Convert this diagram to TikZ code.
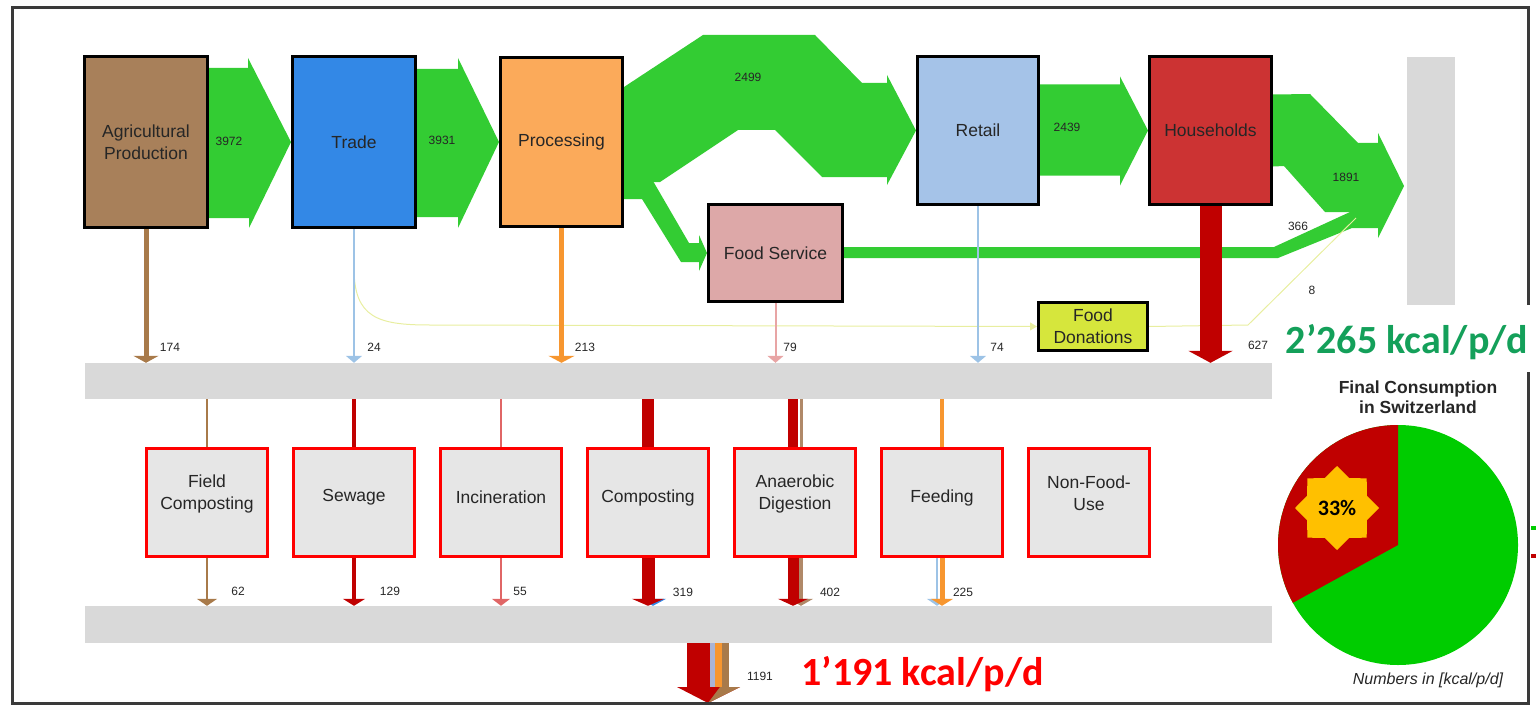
\documentclass[tikz,border=0pt]{standalone}
\usepackage{fontspec}
\setmainfont{Liberation Sans}
\newfontfamily\calibri{Carlito}
\usetikzlibrary{arrows.meta,positioning,calc,backgrounds,shapes.geometric}
\definecolor{Soil}{HTML}{A8805A}
\definecolor{Azure}{HTML}{3388E6}
\definecolor{Peach}{HTML}{FBAA5A}
\definecolor{Sky}{HTML}{A5C3E8}
\definecolor{Brick}{HTML}{CC3333}
\definecolor{Rose}{HTML}{DDA8A8}
\definecolor{Lime}{HTML}{D6E63C}
\definecolor{Leaf}{HTML}{33CC33}
\definecolor{Wine}{HTML}{C00000}
\definecolor{Umber}{HTML}{A87A4A}
\definecolor{Amber}{HTML}{F7962F}
\definecolor{Ice}{HTML}{9DC3E6}
\definecolor{Blush}{HTML}{E8A5A5}
\definecolor{Coral}{HTML}{E06666}
\definecolor{Taupe}{HTML}{B08968}
\definecolor{Lav}{HTML}{A9B4D6}
\definecolor{Haze}{HTML}{D9D9D9}
\definecolor{Ash}{HTML}{E6E6E6}
\definecolor{Signal}{HTML}{FF0000}
\definecolor{Mint}{HTML}{14A05A}
\definecolor{Turf}{HTML}{00CC00}
\definecolor{Gold}{HTML}{FFC000}
\definecolor{Ink}{HTML}{262626}
\definecolor{Frame}{HTML}{3A3A3A}
\definecolor{Donat}{HTML}{E8EEA0}
\newcommand\boxfont{\fontsize{17.5}{22}\selectfont}
\newcommand\numfont{\fontsize{12}{14}\selectfont}

\begin{document}
\begin{tikzpicture}[x=1pt,y=-1pt,node distance=23pt,
        tb/.style={draw=black,line width=3pt,inner sep=0pt,align=center,font=\boxfont,text=Ink},
        wb/.style={draw=Signal,fill=Ash,line width=3pt,minimum width=121pt,minimum height=108pt,inner sep=0pt},
        wl/.style={font=\boxfont,text=Ink,align=center,yshift=9pt},
        bar/.style={fill=Haze,inner sep=0pt},
        flow/.style={fill=Leaf},
        don/.style={draw=Donat,line width=1pt},
        dn/.style={-{Triangle[width=#1,length=7pt]}},
        num/.style={font=\numfont,text=Ink,inner sep=0pt},
        big/.style={font=\calibri\bfseries\fontsize{40}{40}\selectfont,inner sep=0pt,anchor=base},
        frame/.style={draw=Frame,line width=3pt}]
  \useasboundingbox (0,0) rectangle (1536,706);

  % chain stages
  \node[tb,fill=Soil,minimum width=123pt,minimum height=171pt] (ag) at (146,142) {Agricultural\\Production};
  \node[tb,fill=Azure,minimum width=123pt,minimum height=171pt,right=82pt of ag] (tr) {Trade};
  \node[tb,fill=Peach,minimum width=122pt,minimum height=169pt,right=82pt of tr] (pr) {Processing};
  \node[tb,fill=Sky,minimum width=121pt,minimum height=147pt] (rt) at (978,130.5) {Retail};
  \node[tb,fill=Brick,minimum width=122pt,minimum height=147pt,right=108pt of rt] (hh) {Households};
  \node[tb,fill=Rose,minimum width=134pt,minimum height=97pt] (fs) at (775.5,253) {Food Service};
  \node[tb,fill=Lime,minimum width=109pt,minimum height=48pt] (fd) at (1093,326.5) {Food\\Donations};

  % collecting bars
  \node[bar,minimum width=1187pt,minimum height=36pt] (bar1) at (678.5,381) {};
  \node[bar,minimum width=1187pt,minimum height=37pt] (bar2) at (678.5,624.5) {};
  \node[bar,minimum width=48pt,minimum height=248pt] (cons) at (1431,181) {};

  % waste treatment
  \node[wb,label={[wl]center:{Field\\Composting}}] (fc) at (207,502.5) {};
  \node[wb,label={[wl,yshift=-4pt]center:Sewage},right=of fc] (sw) {};
  \node[wb,label={[wl,yshift=-4pt]center:Incineration},right=of sw] (in) {};
  \node[wb,label={[wl,yshift=-4pt]center:Composting},right=of in] (cp) {};
  \node[wb,label={[wl]center:{Anaerobic\\Digestion}},right=of cp] (ad) {};
  \node[wb,label={[wl,yshift=-4pt]center:Feeding},right=of ad] (fe) {};
  \node[wb,label={[wl]center:{Non-Food-\\Use}},right=of fe] (nf) {};
  \coordinate (out) at (708,703);

  \begin{scope}[on background layer]
    % food flows
    \fill[flow] ($(ag.east)+(0,-74)$) -- ++(39,0) -- ++(0,-10) -- (tr.west) -- ++(-42,86) -- ++(0,-10) -- ($(ag.east)+(0,76)$) -- cycle;
    \fill[flow] ($(tr.east)+(0,-73)$) -- ++(41,0) -- ++(0,-11) -- (pr.west) -- ++(-41,86) -- ++(0,-11) -- ($(tr.east)+(0,75)$) -- cycle;
    \fill[flow] ($(pr.east)+(0,-55)$) -- (703,35) -- (815,35) -- (862,83) -- (887,83) -- (887,75) -- (rt.west) -- (887,185) -- (887,177) -- (822,177) -- (775,130) -- (738,130) -- (660,182) -- ($(pr.east)+(0,40)$) -- cycle;
    \fill[flow] ($(pr.east)+(0,39)$) -- (653,181) -- (689,243) -- (699,243) -- (699,235) -- (fs.west) -- (699,271) -- (699,262) -- (681,262) -- (642,199) -- ($(pr.east)+(0,57)$) -- cycle;
    \fill[flow] ($(rt.east)+(0,-46)$) -- ++(80,0) -- ++(0,-8) -- (hh.west) -- ++(-28,55) -- ++(0,-10) -- ($(rt.east)+(0,45)$) -- cycle;
    \fill[flow] ($(fs.east)+(0,-6)$) -- (1274,247) -- (1350,212) -- (1378,212) -- (1378,228) -- (1352,228) -- (1278,258) -- ($(fs.east)+(0,5)$) -- cycle;
    \fill[flow] ($(hh.east)+(0,-36)$) -- (1310,94) -- (1358,143) -- (1378,143) -- (1378,133) -- (1404,186) -- (1378,238) -- (1378,212) -- (1325,212) -- (1284,166) -- ($(hh.east)+(0,36)$) -- cycle;
    \draw[don,dn=8pt] ($(tr.south)+(0,39)$) .. controls (354,318) and (378,325) .. (430,325) -- (fd.west);
    \draw[don] (fd.east) -- (1248,325) -- (1356,218);
    % losses
    \draw[Umber,line width=5pt,dn=25pt] (ag) -- (ag |- bar1.north);
    \draw[Ice,line width=2pt,dn=16pt] (tr) -- (tr |- bar1.north);
    \draw[Amber,line width=5pt,dn=26pt] (pr) -- (pr |- bar1.north);
    \draw[Blush,line width=2pt,dn=16pt] (fs) -- (fs |- bar1.north);
    \draw[Ice,line width=2pt,dn=16pt] (rt) -- (rt |- bar1.north);
    \draw[Wine,line width=22pt,-{Triangle[width=44pt,length=12pt]}] (hh) -- (hh |- bar1.north);
    % to treatment
    \draw[Umber,line width=2pt] (bar1.south -| fc) -- (fc);
    \draw[Wine,line width=3.5pt] (bar1.south -| sw) -- (sw);
    \draw[Coral,line width=1.5pt] (bar1.south -| in) -- (in);
    \draw[Wine,line width=12pt] (bar1.south -| cp) -- (cp);
    \draw[Taupe,line width=3pt] ($(bar1.south -| ad)+(6.5,0)$) -- ($(ad.north)+(6.5,0)$);
    \draw[Wine,line width=10pt] ($(bar1.south -| ad)+(-2,0)$) -- ($(ad.north)+(-2,0)$);
    \draw[Amber,line width=4pt] (bar1.south -| fe) -- (fe);
    % out of treatment
    \draw[Umber,line width=2pt,dn=20pt] (fc) -- (fc |- bar2.north);
    \draw[Wine,line width=3.5pt,dn=22pt] (sw) -- (sw |- bar2.north);
    \draw[Coral,line width=1.5pt,dn=18pt] (in) -- (in |- bar2.north);
    \draw[Azure,line width=1pt,dn=26pt] ($(cp.south)+(5,0)$) -- ($(cp |- bar2.north)+(5,0)$);
    \draw[Wine,line width=13pt,dn=32pt] (cp) -- (cp |- bar2.north);
    \draw[Taupe,line width=4pt,dn=24pt] ($(ad.south)+(6,0)$) -- ($(ad |- bar2.north)+(6,0)$);
    \draw[Wine,line width=11pt,dn=30pt] ($(ad.south)+(-2,0)$) -- ($(ad |- bar2.north)+(-2,0)$);
    \draw[Ice,line width=2pt,dn=20pt] ($(fe.south)+(-5,0)$) -- ($(fe |- bar2.north)+(-5,0)$);
    \draw[Amber,line width=5pt,dn=22pt] (fe) -- (fe |- bar2.north);
    % residue
    \draw[Wine,line width=23pt] ($(bar2.south -| out)+(-9.5,0)$) -- ($(out)+(-9.5,-16)$);
    \draw[Lav,line width=5pt] ($(bar2.south -| out)+(4.5,0)$) -- ($(out)+(4.5,-16)$);
    \draw[Amber,line width=7pt] ($(bar2.south -| out)+(10.5,0)$) -- ($(out)+(10.5,-16)$);
    \draw[Umber,line width=7pt] ($(bar2.south -| out)+(17.5,0)$) -- ($(out)+(17.5,-16)$);
    \fill[Wine] ($(out)+(-31,-16)$) -- ($(out)+(32,-16)$) -- (out) -- cycle;
    \fill[Umber] ($(out)+(12,-16)$) -- ($(out)+(32,-16)$) -- (out) -- cycle;
  \end{scope}

  % flow values
  \node[num] (v3972) at (229,141) {3972};
  \node[num] (v3931) at (442,140) {3931};
  \node[num] (v2499) at (748,77) {2499};
  \node[num] (v2439) at (1067,127) {2439};
  \node[num] (v1891) at (1346,177) {1891};
  \node[num] (v366) at (1298,226) {366};
  \node[num] (v8) at (1312,290) {8};
  \node[num] (v174) at (170,347) {174};
  \node[num] (v24) at (374,347) {24};
  \node[num] (v213) at (585,347) {213};
  \node[num] (v79) at (790,347) {79};
  \node[num] (v74) at (997,347) {74};
  \node[num] (v627) at (1258,345) {627};
  \node[num] (v62) at (238,591) {62};
  \node[num] (v129) at (390,591) {129};
  \node[num] (v55) at (520,591) {55};
  \node[num] (v319) at (683,592) {319};
  \node[num] (v402) at (830,592) {402};
  \node[num] (v225) at (963,592) {225};
  \node[num] (v1191) at (760,676) {1191};

  \node[big,text=Mint] (tot) at (1407,353) {2’265 kcal/p/d};
  \node[big,text=Signal] (loss) at (922.5,685) {1’191 kcal/p/d};

  % pie
  \coordinate (pie) at (1398,545);
  \fill[Turf] (pie) circle[radius=120];
  \fill[Wine] (pie) -- ++(-90:120) arc[start angle=-90,end angle=-208.8,radius=120] -- cycle;
  \node[star,star points=8,star point ratio=1.3,fill=Gold,minimum size=84pt,inner sep=0pt,font=\calibri\bfseries\fontsize{22}{22}\selectfont] (pct) at (1337,508) {33\%};
  \node[font=\bfseries\fontsize{17.5}{20}\selectfont,align=center,text=Ink] (ptit) at (1418,397) {Final Consumption\\in Switzerland};
  \node[font=\itshape\fontsize{16}{18}\selectfont,text=Ink] (punit) at (1428,680) {Numbers in [kcal/p/d]};
  \draw[Turf,line width=4pt] (1531,528) -- (1536,528);
  \draw[Wine,line width=4pt] (1531,556) -- (1536,556);

  \draw[frame] (1528,305) -- (1528,8) -- (12,8) -- (12,703) -- (1528,703) -- (1528,372);
\end{tikzpicture}
\end{document}
